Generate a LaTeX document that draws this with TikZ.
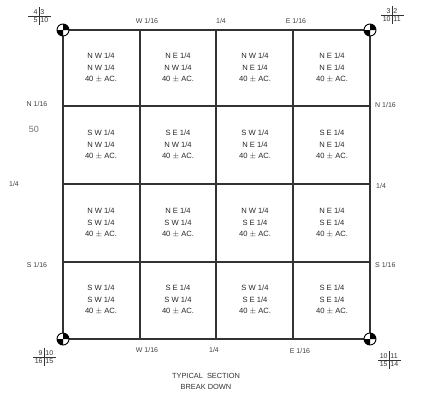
\documentclass[tikz,border=0pt]{standalone}
\usepackage{fontspec}
\setmainfont{Liberation Sans}
\begin{document}
\begin{tikzpicture}[x=1pt,y=-1pt,
  gridline/.style={line width=1.1pt,draw=black!80},
  celltext/.style={font=\fontsize{7.6}{11.5}\selectfont,align=center,text=black!85,inner sep=0pt},
  edgelabel/.style={font=\fontsize{7}{7}\selectfont,text=black!75,inner sep=0pt},
  fraclabel/.style={font=\fontsize{7}{7}\selectfont,text=black!80,inner sep=1.2pt},
  titlelabel/.style={font=\fontsize{7.4}{10.5}\selectfont,text=black!80,align=center,inner sep=0pt}]
\useasboundingbox (0,0) rectangle (423,392);
% grid coordinates
\coordinate (tl) at (63,30);
\coordinate (tr) at (370,30);
\coordinate (bl) at (63,339);
\coordinate (br) at (370,339);
% outer border
\draw[gridline] (tl) -- (tr) -- (br) -- (bl) -- cycle;
% vertical lines
\foreach \x in {140,216,293}{\draw[gridline] (\x,30) -- (\x,339);}
% horizontal lines
\foreach \y in {106,184,262}{\draw[gridline] (63,\y) -- (370,\y);}
% corner markers
\foreach \c in {tl,tr,bl,br}{
  \fill[white] (\c) circle (6);
  \fill[black] (\c) -- ++(-6,0) arc[start angle=180,end angle=90,radius=6] -- cycle;
  \fill[black] (\c) -- ++(6,0) arc[start angle=0,end angle=-90,radius=6] -- cycle;
  \draw[line width=0.9pt] (\c) circle (6);
}
% cell texts
\node[celltext] (c11) at (101,68) {N W 1/4\\N W 1/4\\40 $\pm$ AC.};
\node[celltext] (c12) at (178,68) {N E 1/4\\N W 1/4\\40 $\pm$ AC.};
\node[celltext] (c13) at (255,68) {N W 1/4\\N E 1/4\\40 $\pm$ AC.};
\node[celltext] (c14) at (332,68) {N E 1/4\\N E 1/4\\40 $\pm$ AC.};
\node[celltext] (c21) at (101,145) {S W 1/4\\N W 1/4\\40 $\pm$ AC.};
\node[celltext] (c22) at (178,145) {S E 1/4\\N W 1/4\\40 $\pm$ AC.};
\node[celltext] (c23) at (255,145) {S W 1/4\\N E 1/4\\40 $\pm$ AC.};
\node[celltext] (c24) at (332,145) {S E 1/4\\N E 1/4\\40 $\pm$ AC.};
\node[celltext] (c31) at (101,223) {N W 1/4\\S W 1/4\\40 $\pm$ AC.};
\node[celltext] (c32) at (178,223) {N E 1/4\\S W 1/4\\40 $\pm$ AC.};
\node[celltext] (c33) at (255,223) {N W 1/4\\S E 1/4\\40 $\pm$ AC.};
\node[celltext] (c34) at (332,223) {N E 1/4\\S E 1/4\\40 $\pm$ AC.};
\node[celltext] (c41) at (101,300) {S W 1/4\\S W 1/4\\40 $\pm$ AC.};
\node[celltext] (c42) at (178,300) {S E 1/4\\S W 1/4\\40 $\pm$ AC.};
\node[celltext] (c43) at (255,300) {S W 1/4\\S E 1/4\\40 $\pm$ AC.};
\node[celltext] (c44) at (332,300) {S E 1/4\\S E 1/4\\40 $\pm$ AC.};
% top labels
\node[edgelabel] (tw) at (147,21) {W 1/16};
\node[edgelabel] (tq) at (221,21) {1/4};
\node[edgelabel] (te) at (296,21) {E 1/16};
% bottom labels
\node[edgelabel] (bw) at (147,350) {W 1/16};
\node[edgelabel] (bq) at (214,350) {1/4};
\node[edgelabel] (be) at (300,351) {E 1/16};
% left labels
\node[edgelabel] (ln) at (37,104) {N 1/16};
\node[edgelabel] (lq) at (14,184) {1/4};
\node[edgelabel] (ls) at (37,265) {S 1/16};
\node[font=\fontsize{9}{9}\selectfont,text=black!55,inner sep=0pt] (fifty) at (34,129) {50};
% right labels
\node[edgelabel,anchor=west] (rn) at (375,105) {N 1/16};
\node[edgelabel,anchor=west] (rq) at (376,186) {1/4};
\node[edgelabel,anchor=west] (rs) at (375,265) {S 1/16};
% corner fractions
\newcommand{\secfrac}[5]{%
  \draw[line width=0.6pt,black!80] (#1,#2-9) -- (#1,#2+9);
  \draw[line width=0.6pt,black!80] (#1-11,#2) -- (#1+12,#2);
  \node[fraclabel,anchor=south east] at (#1,#2) {#3};
  \node[fraclabel,anchor=south west] at (#1,#2) {#4};
  \node[fraclabel,anchor=north east] at (#1,#2) {#5};
}
\secfrac{39}{16}{4}{3}{5}
\node[fraclabel,anchor=north west] (f1) at (39,16) {10};
\secfrac{392}{15}{3}{2}{10}
\node[fraclabel,anchor=north west] (f2) at (392,15) {11};
\secfrac{44}{357}{9}{10}{16}
\node[fraclabel,anchor=north west] (f3) at (44,357) {15};
\secfrac{389}{360}{10}{11}{15}
\node[fraclabel,anchor=north west] (f4) at (389,360) {14};
% title
\node[titlelabel] (title) at (206,381.5) {TYPICAL \ SECTION\\BREAK DOWN};
\end{tikzpicture}
\end{document}
